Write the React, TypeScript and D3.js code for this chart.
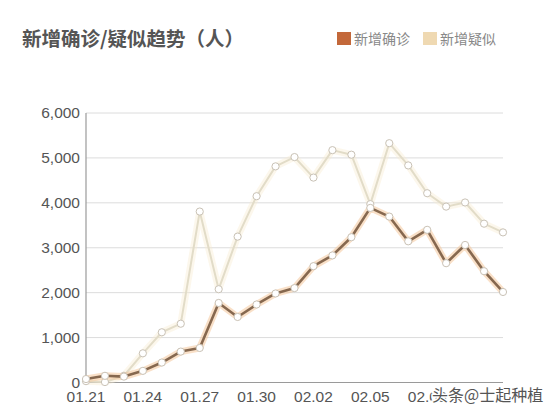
import * as d3 from 'd3'

const dates = [
  '01.21', '01.22', '01.23', '01.24', '01.25', '01.26', '01.27', '01.28',
  '01.29', '01.30', '01.31', '02.01', '02.02', '02.03', '02.04', '02.05',
  '02.06', '02.07', '02.08', '02.09', '02.10', '02.11', '02.12',
]
const confirmed = [
  77, 149, 131, 259, 444, 688, 769, 1771, 1459, 1737, 1982, 2102,
  2590, 2829, 3235, 3887, 3694, 3143, 3399, 2656, 3062, 2478, 2015,
]
const suspected = [
  30, 10, 150, 650, 1118, 1309, 3806, 2077, 3248, 4148, 4812, 5019,
  4562, 5173, 5072, 3971, 5328, 4833, 4214, 3916, 4008, 3536, 3342,
]
const xTicks = ['01.21', '01.24', '01.27', '01.30', '02.02', '02.05', '02.08']
const yTicks = [0, 1000, 2000, 3000, 4000, 5000, 6000]

const series = [
  { name: '新增疑似', values: suspected, line: '#e2dcc8', glow: '#f7ead0', glowOpacity: 0.4, swatch: '#efd9b2', width: 2 },
  { name: '新增确诊', values: confirmed, line: '#86684f', glow: '#f4c79b', glowOpacity: 0.55, swatch: '#c3683a', width: 2.6 },
]

const font = '"Liberation Sans", Arial, sans-serif'
const cjk = '"Noto Sans CJK SC", sans-serif'

export default function App() {
  const x = d3.scalePoint<string>().domain(dates).range([86, 503])
  const y = d3.scaleLinear().domain([0, 6000]).range([382.5, 113])
  const fmt = d3.format(',')

  const line = d3
    .line<number>()
    .x((_, i) => x(dates[i]) ?? 0)
    .y(d => y(d))

  return (
    <svg
      width={550}
      height={414}
      style={{ position: 'absolute', left: 0, top: 0, background: '#fff' }}
    >
      <text x={22} y={46} fontFamily={cjk} fontWeight={700} fontSize={19.5} fill="#555">
        新增确诊/疑似趋势（人）
      </text>

      {/* legend */}
      {[series[1], series[0]].map((s, i) => (
        <g key={s.name} transform={`translate(${337 + i * 86},32)`}>
          <rect width={14} height={13} fill={s.swatch} />
          <text x={17} y={12} fontFamily={cjk} fontSize={14} fill="#888">
            {s.name}
          </text>
        </g>
      ))}

      {/* grid */}
      {yTicks.map(t => (
        <g key={t}>
          {t > 0 && <line x1={86} x2={503} y1={y(t)} y2={y(t)} stroke="#dcdcdc" strokeWidth={1} />}
          <text x={80} y={y(t) + 5} textAnchor="end" fontFamily={font} fontSize={15.5} fill="#555">
            {fmt(t)}
          </text>
        </g>
      ))}
      <line x1={86} x2={86} y1={113} y2={382.5} stroke="#9a9a9a" strokeWidth={1.2} />
      <line x1={86} x2={503} y1={382.5} y2={382.5} stroke="#9a9a9a" strokeWidth={1.2} />
      {xTicks.map(t => (
        <text key={t} x={x(t)} y={402} textAnchor="middle" fontFamily={font} fontSize={15.5} fill="#555">
          {t}
        </text>
      ))}

      {/* series */}
      {series.map(s => (
        <g key={s.name}>
          <path d={line(s.values) ?? ''} fill="none" stroke={s.glow} strokeWidth={7} strokeOpacity={s.glowOpacity} strokeLinejoin="round" />
          <path d={line(s.values) ?? ''} fill="none" stroke={s.line} strokeWidth={s.width} strokeLinejoin="round" />
          {s.values.map((v, i) => (
            <circle key={i} cx={x(dates[i])} cy={y(v)} r={3.6} fill="#fff" stroke="#c9c2b6" strokeWidth={1} />
          ))}
        </g>
      ))}

      {/* watermark */}
      <text
        x={432}
        y={401}
        fontFamily={cjk}
        fontSize={16}
        fill="#555"
        stroke="#fff"
        strokeWidth={3}
        paintOrder="stroke"
      >
        头条@士起种植
      </text>
    </svg>
  )
}
